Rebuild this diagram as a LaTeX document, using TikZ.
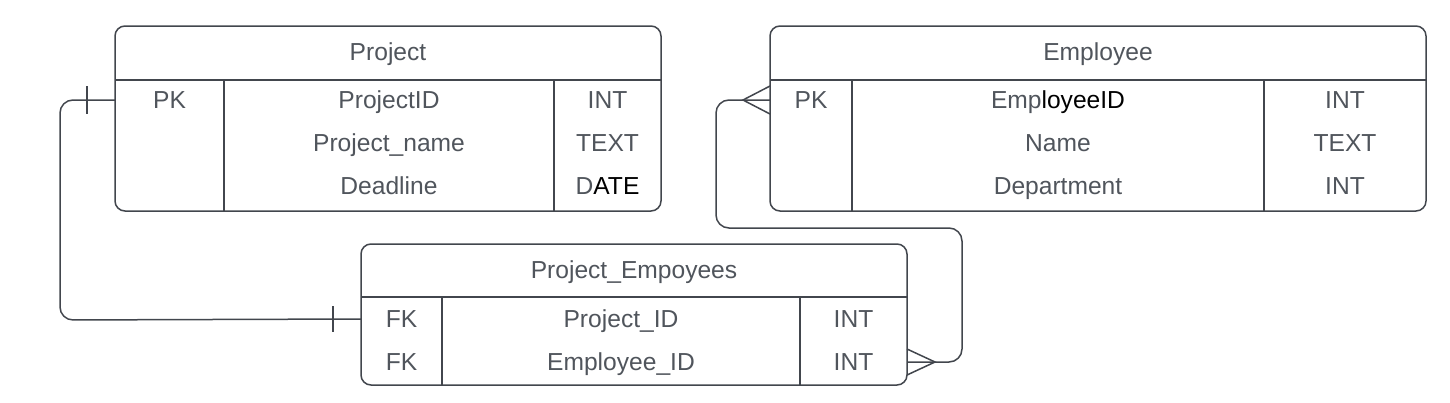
\documentclass[tikz,border=0pt]{standalone}
\usepackage{fontspec}
\setmainfont{Liberation Sans}
\usetikzlibrary{calc}
\definecolor{trait}{HTML}{42464D}
\definecolor{texte}{HTML}{50555C}

\tikzset{
  tablebox/.style={draw=trait, line width=0.75pt, rounded corners=5pt, outer sep=0pt, inner sep=0pt},
  sep/.style={draw=trait, line width=0.75pt},
  champ/.style={text=texte, font=\fontsize{12.3}{14}\selectfont, inner sep=0pt, text height=8.8pt, text depth=0pt},
  rel/.style={draw=trait, line width=0.75pt, rounded corners=6.5pt}
}

\begin{document}
\begin{tikzpicture}[x=0.5pt,y=-0.5pt]
\useasboundingbox (0,0) rectangle (1450,402);

% Table Project
\node[tablebox, minimum width=273pt, minimum height=92.5pt] (project) at (388,118.5) {};
\draw[sep] (115,80) -- (661,80);
\draw[sep] (224,80) -- (224,211);
\draw[sep] (554,80) -- (554,211);
\node[champ] (projtitre) at (388,52) {Project};
\node[champ] (pk1) at (169.5,100) {PK};
\node[champ] (projid) at (389,100) {ProjectID};
\node[champ] (projnom) at (389,143) {Project\_name};
\node[champ] (projdate) at (389,186) {Deadline};
\node[champ] (projt1) at (607.5,100) {INT};
\node[champ] (projt2) at (607.5,143) {TEXT};
\node[champ] (projt3) at (607.5,186) {D{\color{black}ATE}};

% Table Employee
\node[tablebox, minimum width=328pt, minimum height=92.5pt] (employee) at (1098,118.5) {};
\draw[sep] (770,80) -- (1426,80);
\draw[sep] (852,80) -- (852,211);
\draw[sep] (1264,80) -- (1264,211);
\node[champ] (emptitre) at (1098,52) {Employee};
\node[champ] (pk2) at (811,100) {PK};
\node[champ] (empid) at (1058,100) {Emp{\color{black}loyeeID}};
\node[champ] (empnom) at (1058,143) {Name};
\node[champ] (empdep) at (1058,186) {Department};
\node[champ] (empt1) at (1345,100) {INT};
\node[champ] (empt2) at (1345,143) {TEXT};
\node[champ] (empt3) at (1345,186) {INT};

% Table d'association
\node[tablebox, minimum width=273pt, minimum height=70.5pt] (pe) at (634,314.5) {};
\draw[sep] (361,297) -- (907,297);
\draw[sep] (442,297) -- (442,385);
\draw[sep] (800,297) -- (800,385);
\node[champ] (petitre) at (634,270) {Project\_Empoyees};
\node[champ] (fk1) at (401.5,319) {FK};
\node[champ] (fk2) at (401.5,362) {FK};
\node[champ] (peproj) at (621,319) {Project\_ID};
\node[champ] (peemp) at (621,362) {Employee\_ID};
\node[champ] (pet1) at (853.5,319) {INT};
\node[champ] (pet2) at (853.5,362) {INT};

% Relation Project -- Project_Empoyees (un a un)
\draw[rel] (project.west |- pk1) -- (60,100) -- (60,320) -- (pe.west |- fk1);
\draw[sep] ($(project.west |- pk1)+(-28,-14)$) -- ++(0,28);
\draw[sep] ($(pe.west |- fk1)+(-28,-13)$) -- ++(0,26);

% Relation Employee -- Project_Empoyees (pattes d'oie)
\draw[rel] (employee.west |- pk2) -- (716,100) -- (716,228) -- (962,228) -- (962,362) -- (pe.east |- fk2);
\draw[sep] ($(employee.west |- pk2)+(0,-14)$) -- ++(-27,14) -- ++(27,14);
\draw[sep] ($(pe.east |- fk2)+(0,-13)$) -- ++(28,13) -- ++(-28,13);

\end{tikzpicture}
\end{document}
